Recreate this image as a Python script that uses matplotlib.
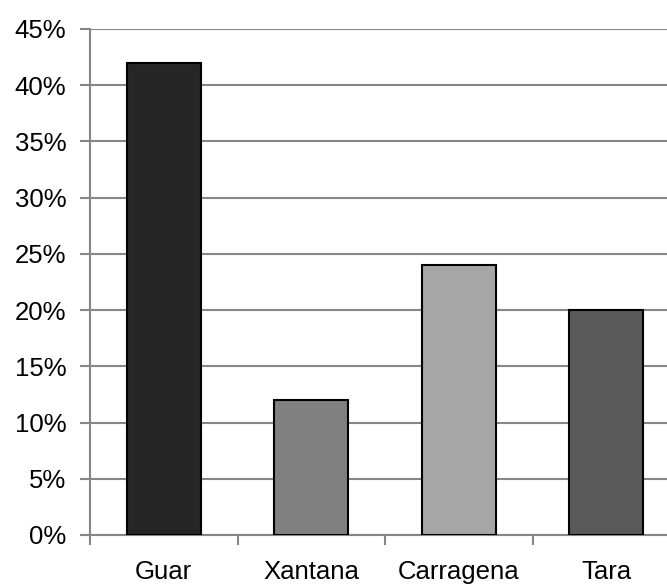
import matplotlib.pyplot as plt
from matplotlib.ticker import FuncFormatter

categories = ["Guar", "Xantana", "Carragena", "Tara"]
values = [42, 12, 24, 20]
bar_colors = ["#262626", "#808080", "#a6a6a6", "#595959"]
y_ticks = [0, 5, 10, 15, 20, 25, 30, 35, 40, 45]

plt.rcParams['font.family'] = ['Liberation Sans', 'DejaVu Sans']

fig = plt.figure(figsize=(6.67, 5.88), dpi=100)
ax = fig.add_axes([90 / 667, 1 - 535 / 588, 590 / 667, 506 / 588])

grid_color = "#868686"
ax.set_axisbelow(True)
ax.yaxis.grid(True, color=grid_color, linewidth=1.5)

x = list(range(len(categories)))
ax.bar(x, values, width=0.5, color=bar_colors, edgecolor="black", linewidth=1.5, zorder=3)

ax.set_xlim(-0.5, 3.5)
ax.set_ylim(0, 45)
ax.set_yticks(y_ticks)
ax.yaxis.set_major_formatter(FuncFormatter(lambda v, p: f"{v:.0f}%"))

# category separators as major ticks, names on minor ticks
ax.set_xticks([-0.5, 0.5, 1.5, 2.5, 3.5])
ax.set_xticklabels([])
ax.set_xticks(x, minor=True)
ax.set_xticklabels(categories, minor=True)

ax.tick_params(axis="x", which="major", length=7, width=1.5, color=grid_color, direction="out")
ax.tick_params(axis="x", which="minor", length=0, pad=18, labelsize=18.5)
ax.tick_params(axis="y", length=7, width=1.5, color=grid_color, pad=10, labelsize=18.5)

for side in ["top", "right"]:
    ax.spines[side].set_visible(False)
for side in ["left", "bottom"]:
    ax.spines[side].set_color(grid_color)
    ax.spines[side].set_linewidth(1.5)

fig.savefig("out.png", dpi=100)
